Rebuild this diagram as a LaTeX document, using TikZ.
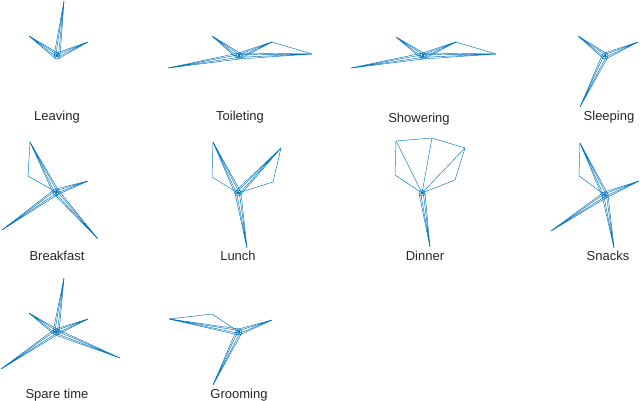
\documentclass[tikz,border=0pt]{standalone}
\usepackage{fontspec}
\setmainfont{Liberation Sans}
\usetikzlibrary{calc}
\definecolor{mblue}{RGB}{0,114,189}
\tikzset{glyph/.style={draw=mblue,line width=0.45pt,line join=round},
lbl/.style={font=\fontsize{13}{15}\selectfont,text=black!85,inner sep=0pt}}
\newcommand{\myarm}[2]{%
 \draw[glyph] ($(#1)!3pt!90:(#2)$) -- (#2) -- ($(#1)!3pt!-90:(#2)$);
 \draw[glyph] ($(#1)!1.3pt!90:(#2)$) -- (#2) -- ($(#1)!1.3pt!-90:(#2)$);}
\newcommand{\myhub}[1]{\draw[glyph] (#1) circle (3pt); \fill[mblue] (#1) circle (1.5pt);}
\begin{document}
\begin{tikzpicture}[x=1pt,y=-1pt]
\useasboundingbox (0,0) rectangle (640,401);
% Leaving
\coordinate (c1) at (57,56);
\foreach \x/\y in {64/1,29/36,88/42} {\coordinate (t) at (\x,\y); \myarm{c1}{t}}
\myhub{c1}
\node[lbl] (l1) at (57,117) {Leaving};
% Toileting
\coordinate (c2) at (239,56);
\foreach \x/\y in {168/68,212/36} {\coordinate (t) at (\x,\y); \myarm{c2}{t}}
\coordinate (a2) at (272,42); \coordinate (b2) at (312,54);
\myarm{c2}{a2} \myarm{c2}{b2} \draw[glyph] (a2) -- (b2);
\myhub{c2}
\node[lbl] (l2) at (240,117) {Toileting};
% Showering
\coordinate (c3) at (423,56);
\foreach \x/\y in {351/68,396/37} {\coordinate (t) at (\x,\y); \myarm{c3}{t}}
\coordinate (a3) at (456,42); \coordinate (b3) at (496,54);
\myarm{c3}{a3} \myarm{c3}{b3} \draw[glyph] (a3) -- (b3);
\myhub{c3}
\node[lbl] (l3) at (419,119) {Showering};
% Sleeping
\coordinate (c4) at (605,56);
\foreach \x/\y in {578/36,638/42,580/107} {\coordinate (t) at (\x,\y); \myarm{c4}{t}}
\myhub{c4}
\node[lbl] (l4) at (609,117) {Sleeping};
% Breakfast
\coordinate (c5) at (56,192);
\coordinate (a5) at (30,142); \coordinate (b5) at (28,176);
\myarm{c5}{a5} \draw[glyph] (a5) -- (b5) -- (c5);
\foreach \x/\y in {88/181,2/230,98/239} {\coordinate (t) at (\x,\y); \myarm{c5}{t}}
\myhub{c5}
\node[lbl] (l5) at (57,256) {Breakfast};
% Lunch
\coordinate (c6) at (238,193);
\coordinate (a6) at (213,142); \coordinate (b6) at (212,177);
\coordinate (d6) at (281,148); \coordinate (e6) at (273,182);
\myarm{c6}{a6} \draw[glyph] (a6) -- (b6) -- (c6);
\myarm{c6}{d6} \draw[glyph] (d6) -- (e6) -- (c6);
\coordinate (t6) at (247,248); \myarm{c6}{t6}
\myhub{c6}
\node[lbl] (l6) at (238,256) {Lunch};
% Dinner
\coordinate (c7) at (422,193);
\coordinate (p1) at (395,175); \coordinate (p2) at (396,141); \coordinate (p3) at (432,138);
\coordinate (p4) at (465,148); \coordinate (p5) at (455,180);
\draw[glyph] (c7) -- (p1) -- (p2) -- (p3) -- (p4) -- (p5) -- (c7);
\foreach \q in {p2,p3,p4} {\draw[glyph] (c7) -- (\q);}
\coordinate (t7) at (430,247); \myarm{c7}{t7}
\myhub{c7}
\node[lbl] (l7) at (425,256) {Dinner};
% Snacks
\coordinate (c8) at (605,195);
\coordinate (a8) at (580,143); \coordinate (b8) at (579,176);
\myarm{c8}{a8} \draw[glyph] (a8) -- (b8) -- (c8);
\foreach \x/\y in {639/181,551/231,614/248} {\coordinate (t) at (\x,\y); \myarm{c8}{t}}
\myhub{c8}
\node[lbl] (l8) at (608,256) {Snacks};
% Spare time
\coordinate (c9) at (56,332);
\foreach \x/\y in {64/278,29/313,88/319,1/369,120/358} {\coordinate (t) at (\x,\y); \myarm{c9}{t}}
\myhub{c9}
\node[lbl] (l9) at (57,395) {Spare time};
% Grooming
\coordinate (c10) at (239,332);
\coordinate (a10) at (169,319); \coordinate (b10) at (212,314);
\myarm{c10}{a10} \draw[glyph] (a10) -- (b10) -- (c10);
\foreach \x/\y in {272/320,213/385} {\coordinate (t) at (\x,\y); \myarm{c10}{t}}
\myhub{c10}
\node[lbl] (l10) at (239,395) {Grooming};
\end{tikzpicture}
\end{document}
